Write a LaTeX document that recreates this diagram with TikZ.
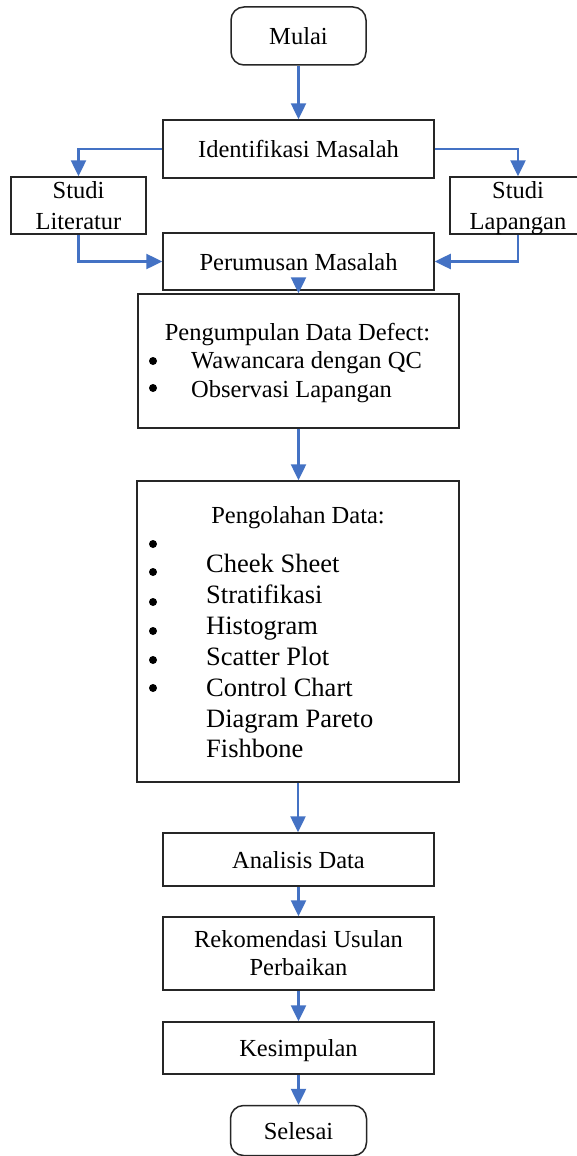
\documentclass[tikz,border=0pt]{standalone}
\usepackage{fontspec}
\setmainfont{Liberation Serif}
\usetikzlibrary{arrows.meta}
\definecolor{arrowblue}{HTML}{4472C4}
\definecolor{boxgray}{HTML}{262626}
\newcommand\mainfs{\fontsize{24.5}{28}\selectfont}
\newcommand\studifs{\fontsize{24.5}{31}\selectfont}
\newcommand\listfs{\fontsize{26.5}{31}\selectfont}
\begin{document}
\begin{tikzpicture}[x=1pt,y=-1pt,
  box/.style={draw=boxgray, line width=1.5pt, fill=white, inner sep=0pt, font=\mainfs},
  single/.style={text height=17pt, text depth=0pt},
  term/.style={box, single, rounded corners=13pt},
  flow/.style={draw=arrowblue, line width=2.5pt, -{Triangle[length=16pt,width=15pt]}},
  txt/.style={inner sep=0pt, font=\mainfs},
  listtxt/.style={inner sep=0pt, font=\listfs, anchor=base west},
  dot/.style={circle, fill=black, inner sep=0pt, minimum size=8pt},
]
\useasboundingbox (0,0) rectangle (576,1156);
\fill[white] (0,0) rectangle (576,1156);

\node[term, minimum width=135pt, minimum height=58pt] (mulai) at (298.5,36) {Mulai};
\node[box, single, minimum width=271pt, minimum height=58pt] (ident) at (298.5,149) {Identifikasi Masalah};
\node[box, align=center, font=\studifs, minimum width=135pt, minimum height=57pt] (lit) at (78.5,205.5) {Studi\\Literatur};
\node[box, align=center, font=\studifs, minimum width=136pt, minimum height=57pt] (lap) at (518,205.5) {Studi\\\smash{Lapangan}};
\node[box, single, minimum width=271pt, minimum height=57pt] (perum) at (298.5,261.5) {Perumusan Masalah};

\node[box, minimum width=321pt, minimum height=134pt] (kumpul) at (298.5,361) {};
\node[txt, anchor=base] (kumpulT) at (297.5,340) {Pengumpulan Data Defect:};
\node[dot] (kb1) at (153,361) {};
\node[txt, anchor=base west] (k1) at (191,368) {Wawancara dengan QC};
\node[dot] (kb2) at (153,388) {};
\node[txt, anchor=base west] (k2) at (191,397) {Observasi Lapangan};

\node[box, minimum width=322pt, minimum height=301pt] (olah) at (298,631.5) {};
\node[txt, anchor=base] (olahT) at (298,523) {Pengolahan Data:};
\node[dot] (ob1) at (153,544) {};
\node[dot] (ob2) at (153,572) {};
\node[dot] (ob3) at (153,602) {};
\node[dot] (ob4) at (153,631) {};
\node[dot] (ob5) at (153,660) {};
\node[dot] (ob6) at (153,688) {};
\node[listtxt] (o1) at (206,572) {Cheek Sheet};
\node[listtxt] (o2) at (206,603) {Stratifikasi};
\node[listtxt] (o3) at (206,634) {Histogram};
\node[listtxt] (o4) at (206,665) {Scatter Plot};
\node[listtxt] (o5) at (206,696) {Control Chart};
\node[listtxt] (o6) at (206,727) {Diagram Pareto};
\node[listtxt] (o7) at (206,757) {Fishbone};

\node[box, single, minimum width=271pt, minimum height=53pt] (anal) at (298.5,859.5) {Analisis Data};
\node[box, align=center, minimum width=271pt, minimum height=73pt] (rekom) at (298.5,953.5) {Rekomendasi Usulan\\Perbaikan};
\node[box, single, minimum width=271pt, minimum height=52pt] (kesim) at (298.5,1048) {Kesimpulan};
\node[term, minimum width=136pt, minimum height=50pt] (selesai) at (298.5,1130.5) {Selesai};

\draw[flow] (mulai.south) -- (ident.north);
\draw[flow] (ident.west) -| (lit.north);
\draw[flow] (ident.east) -| (lap.north);
\draw[flow] (lit.south) |- (perum.west);
\draw[flow] (lap.south) |- (perum.east);
\draw[flow] (perum.south) -- (kumpul.north);
\draw[flow] (kumpul.south) -- (kumpul.south |- olah.north);
\draw[flow] (olah.south) -- (olah.south |- anal.north);
\draw[flow] (anal.south) -- (rekom.north);
\draw[flow] (rekom.south) -- (kesim.north);
\draw[flow] (kesim.south) -- (selesai.north);
\end{tikzpicture}
\end{document}
